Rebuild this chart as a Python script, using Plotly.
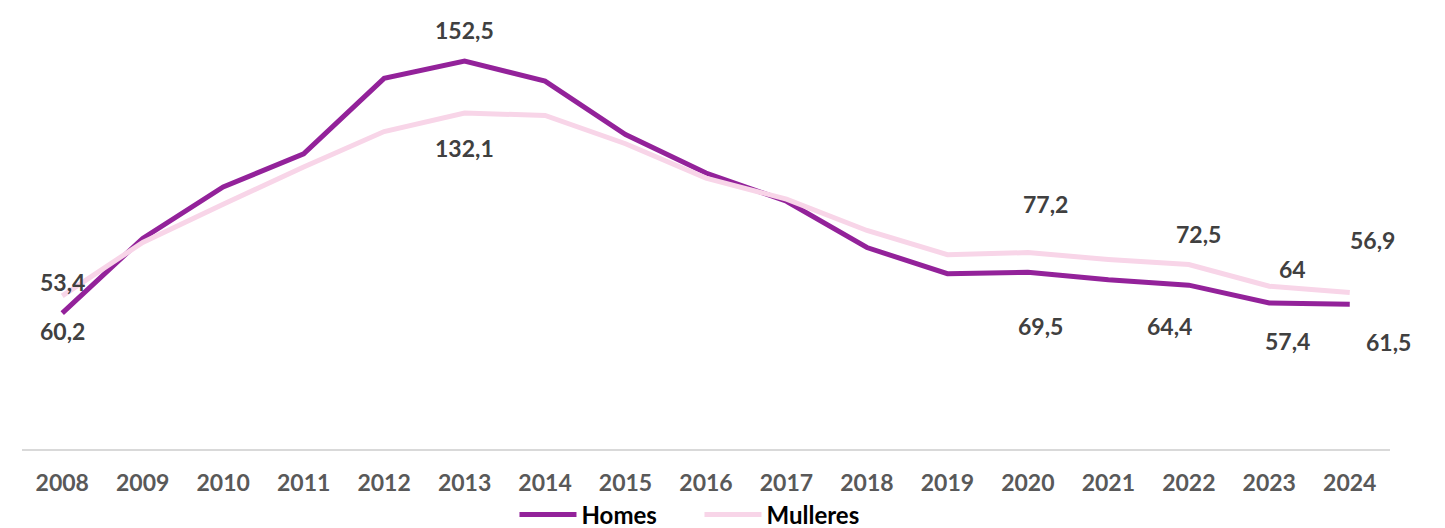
import plotly.graph_objects as go

years = list(range(2008, 2025))
homes = [53.4, 82.8, 103.0, 116.0, 145.7, 152.5, 144.6, 123.6, 108.5, 97.4,
         79.2, 68.9, 69.5, 66.5, 64.4, 57.4, 56.9]
mulleres = [60.2, 81.2, 96.2, 110.9, 124.8, 132.1, 131.1, 120.0, 106.5, 98.2,
            85.9, 76.4, 77.2, 74.5, 72.5, 64.0, 61.5]
tick_labels = [str(y) for y in years]

# labelled points: (year, series, text)
labels = [
    (2008, "homes", "53,4"), (2008, "mulleres", "60,2"),
    (2013, "homes", "152,5"), (2013, "mulleres", "132,1"),
    (2020, "mulleres", "77,2"), (2020, "homes", "69,5"),
    (2022, "mulleres", "72,5"), (2022, "homes", "64,4"),
    (2023, "mulleres", "64"), (2023, "homes", "57,4"),
    (2024, "homes", "56,9"), (2024, "mulleres", "61,5"),
]
# label offsets in pixels (x, y)
offsets = [(0, 31), (0, -35), (0, 31), (0, -35), (18, 49), (13, -54),
           (10, 31), (-19, -41), (23, 17), (18, -38), (23, 64), (39, -49)]

C_H = "#93229A"
C_M = "#F8D5E8"
FONT = "Lato"

fig = go.Figure()
fig.add_trace(go.Scatter(x=years, y=homes, name="Homes", mode="lines",
                         line=dict(color=C_H, width=5)))
fig.add_trace(go.Scatter(x=years, y=mulleres, name="Mulleres", mode="lines",
                         line=dict(color=C_M, width=5)))

series = {"homes": homes, "mulleres": mulleres}
for (yr, s, txt), (dx, dy) in zip(labels, offsets):
    val = series[s][years.index(yr)]
    fig.add_annotation(x=yr, y=val, text=txt, showarrow=False,
                       xshift=dx, yshift=dy,
                       font=dict(family=FONT, size=23, color="#404040", weight="bold"))

fig.update_layout(
    width=1445, height=528,
    margin=dict(l=14, r=63, t=34, b=87, autoexpand=False),
    plot_bgcolor="white", paper_bgcolor="white",
    showlegend=True,
    legend=dict(orientation="h", x=0.360, xanchor="left", y=-0.162, yanchor="middle",
                font=dict(family=FONT, size=24, color="#000000", weight="bold"),
                itemwidth=57, entrywidth=113, tracegroupgap=0),
    xaxis=dict(range=[years[0] - 0.5, years[-1] + 0.5], tickvals=years, ticktext=tick_labels,
               showgrid=False, showline=True, linecolor="#D9D9D9", zeroline=False,
               linewidth=2, ticks="outside", ticklen=12, tickcolor="rgba(0,0,0,0)",
               automargin=False,
               tickfont=dict(family=FONT, size=23, color="#595959", weight="bold")),
    yaxis=dict(range=[0, 160], visible=False, showgrid=False, zeroline=False,
               automargin=False),
)

fig.write_html("out.html")
